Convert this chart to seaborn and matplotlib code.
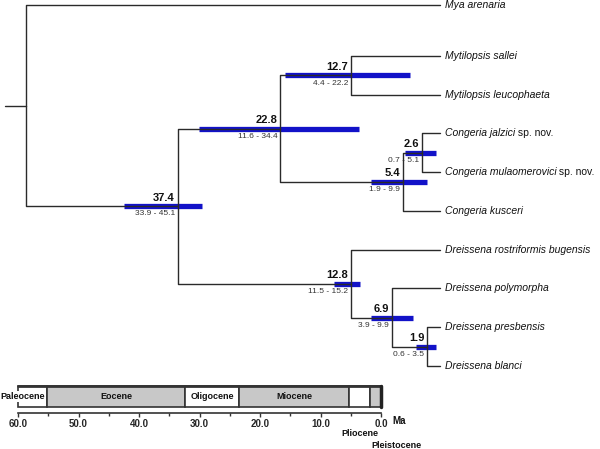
import numpy as np
import pandas as pd
import matplotlib
matplotlib.use("Agg")
import matplotlib.pyplot as plt
import seaborn as sns
from matplotlib.patches import Rectangle

sns.set_style("white")
plt.rcParams["font.family"] = ["Liberation Sans", "DejaVu Sans"]

# tips, top to bottom
taxa = ["Mya arenaria", "Mytilopsis sallei", "Mytilopsis leucophaeta",
        "Congeria jalzici", "Congeria mulaomerovici", "Congeria kusceri",
        "Dreissena rostriformis bugensis", "Dreissena polymorpha",
        "Dreissena presbensis", "Dreissena blanci"]
taxa_suffix = ["", "", "", " sp. nov.", " sp. nov.", "", "", "", "", ""]

# internal nodes: children, mean age (Ma) and 95% HPD
node_names = ["root", "n37", "n22", "n12a", "n5", "n2", "n12b", "n6", "n1"]
node_children = [["Mya arenaria", "n37"],
                 ["n22", "n12b"],
                 ["n12a", "n5"],
                 ["Mytilopsis sallei", "Mytilopsis leucophaeta"],
                 ["n2", "Congeria kusceri"],
                 ["Congeria jalzici", "Congeria mulaomerovici"],
                 ["Dreissena rostriformis bugensis", "n6"],
                 ["Dreissena polymorpha", "n1"],
                 ["Dreissena presbensis", "Dreissena blanci"]]
node_age = [59.0, 37.4, 22.8, 12.7, 5.4, 2.6, 12.8, 6.9, 1.9]
hpd_low = [np.nan, 33.9, 11.6, 4.4, 1.9, 0.7, 11.5, 3.9, 0.6]
hpd_high = [np.nan, 45.1, 34.4, 22.2, 9.9, 5.1, 15.2, 9.9, 3.5]

# geological time scale
epochs = ["Paleocene", "Eocene", "Oligocene", "Miocene", "Pliocene", "Pleistocene"]
epoch_start = [60.0, 55.2, 32.4, 23.5, 5.3, 1.8]
epoch_end = [55.2, 32.4, 23.5, 5.3, 1.8, 0.0]
scale_ticks = [60, 50, 40, 30, 20, 10, 0]

# --- layout of the tree ---
age = {t: 0.0 for t in taxa}
row = {t: i + (0.316 if i else 0.0) for i, t in enumerate(taxa)}
for name, kids, a in list(zip(node_names, node_children, node_age))[::-1]:
    age[name] = a
    row[name] = np.mean([row[k] for k in kids])

seg = []
b = 0
for name, kids in zip(node_names, node_children):
    for k in kids:
        seg += [(b, age[name], row[name]), (b, age[name], row[k]), (b, age[k], row[k])]
        b += 1
seg += [(b, 62.0, row["root"]), (b, age["root"], row["root"])]
seg = pd.DataFrame(seg, columns=["branch", "age", "row"])

bars = []
for name, lo, hi in zip(node_names, hpd_low, hpd_high):
    if np.isnan(lo):
        continue
    bars += [(name, lo, row[name]), (name, hi, row[name])]
bars = pd.DataFrame(bars, columns=["node", "age", "row"])

fig = plt.figure(figsize=(6, 4.49), dpi=100)
ax = fig.add_axes([0, 0, 1, 1])

sns.lineplot(data=bars, x="age", y="row", units="node", estimator=None, sort=False,
             color="#1212c8", lw=3.8, solid_capstyle="butt", ax=ax, zorder=2)
sns.lineplot(data=seg, x="age", y="row", units="branch", estimator=None, sort=False,
             color="#2a2a2a", lw=1.0, ax=ax, zorder=3)

ax.set_xlim(62.714, -22.714)
ax.set_ylim(11.458, -0.129)
ax.axis("off")

for name, lo, hi in zip(node_names, hpd_low, hpd_high):
    if np.isnan(lo):
        continue
    ax.annotate(f"{age[name]:.1f}", xy=(age[name], row[name]), xytext=(-2, 2.5),
                textcoords="offset points", ha="right", va="bottom",
                fontsize=8, fontweight="bold", color="#111111")
    ax.annotate(f"{lo:.1f} - {hi:.1f}", xy=(age[name], row[name]), xytext=(-2, -3),
                textcoords="offset points", ha="right", va="top",
                fontsize=6, color="#333333")

for t, suf in zip(taxa, taxa_suffix):
    txt = ax.annotate(t, xy=(0, row[t]), xytext=(3, 0), textcoords="offset points",
                      ha="left", va="center", fontsize=7.5, style="italic", color="#111111")
    if suf:
        ax.annotate(suf, xy=(1, 0), xycoords=txt, ha="left", va="bottom",
                    fontsize=7.5, color="#111111")

# --- time scale panel ---
ax2 = fig.add_axes([0, 36 / 449, 1, 27 / 449])
ax2.set_xlim(62.98, -36.2)
ax2.set_ylim(0, 27)
for i, (nm, s, e) in enumerate(zip(epochs, epoch_start, epoch_end)):
    ax2.add_patch(Rectangle((e, 6), s - e, 21, facecolor="#c8c8c8" if i % 2 else "white",
                            edgecolor="#333333", lw=1.2, clip_on=False))
    if i < 4:
        xc = 59.3 if i == 0 else (s + e) / 2
        bb = dict(facecolor="white", edgecolor="none", pad=0.5) if i == 0 else None
        ax2.text(xc, 16.5, nm, ha="center", va="center", fontsize=6.5,
                 fontweight="bold", color="#111111", bbox=bb)
ax2.plot([60, 0], [27, 27], color="#333333", lw=2, clip_on=False)
ax2.plot([0, 0], [6, 27], color="#222222", lw=2.5, clip_on=False)
ax2.text(3.5, -20, "Pliocene", ha="center", va="center", fontsize=6.5,
         fontweight="bold", color="#111111")
ax2.text(-2.5, -32, "Pleistocene", ha="center", va="center", fontsize=6.5,
         fontweight="bold", color="#111111")
ax2.text(-1.8, -8, "Ma", ha="left", va="center", fontsize=7,
         fontweight="bold", color="#111111")

sns.despine(ax=ax2, left=True, top=True, right=True)
ax2.spines["bottom"].set_bounds(60, 0)
ax2.spines["bottom"].set_color("#333333")
ax2.spines["bottom"].set_linewidth(1.2)
ax2.set_xticks(scale_ticks)
ax2.set_xticklabels([f"{v:.1f}" for v in scale_ticks], fontsize=7, fontweight="bold")
ax2.set_xticks(np.arange(5, 60, 10), minor=True)
ax2.tick_params(axis="x", which="both", direction="out", length=3, width=1,
                color="#333333", pad=1, bottom=True)
ax2.tick_params(axis="x", which="minor", length=2)
ax2.set_yticks([])
ax2.patch.set_alpha(0)

fig.savefig("out.png", dpi=100)
